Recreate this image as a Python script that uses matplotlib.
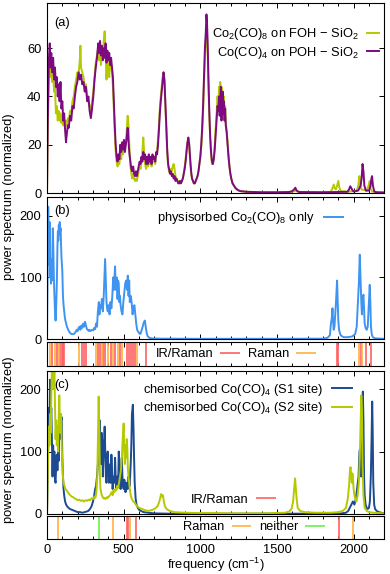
import numpy as np
import matplotlib.pyplot as plt

plt.rcParams['font.family'] = ['Liberation Sans', 'DejaVu Sans']
plt.rcParams['font.size'] = 9.3
plt.rcParams['mathtext.fontset'] = 'custom'
plt.rcParams['mathtext.rm'] = 'Liberation Sans'
plt.rcParams['mathtext.it'] = 'Liberation Sans:italic'
plt.rcParams['mathtext.bf'] = 'Liberation Sans:bold'

# ---- panel (a): (frequency cm-1, power spectrum) ----
foh_sio2 = [(0, 0), (5, 25), (12, 50), (18, 58), (22, 48), (28, 55), (34, 46), (40, 50), (46, 42),
            (52, 44), (58, 33), (64, 36), (70, 30), (76, 34), (82, 30), (88, 33), (94, 29), (100, 32),
            (106, 28), (112, 30), (118, 27), (124, 30), (130, 28), (136, 31), (142, 30), (150, 34),
            (158, 33), (166, 38), (174, 40), (182, 44), (190, 47), (198, 50), (206, 49), (214, 55),
            (218, 61), (222, 52), (230, 50), (238, 48), (246, 44), (254, 45), (262, 40), (270, 38),
            (278, 36), (286, 34), (294, 38), (302, 42), (310, 48), (318, 54), (326, 57), (334, 60),
            (340, 55), (346, 58), (352, 53), (358, 60), (364, 57), (370, 63), (376, 67), (382, 58),
            (388, 47), (394, 55), (400, 52), (406, 48), (412, 55), (418, 53), (424, 50), (430, 44),
            (436, 34), (442, 25), (448, 17), (454, 13), (460, 11), (466, 13), (472, 12), (478, 16),
            (484, 14), (490, 19), (496, 16), (502, 20), (508, 18), (514, 21), (520, 26), (526, 32),
            (532, 28), (538, 18), (544, 11), (550, 8), (556, 6), (562, 8), (568, 6), (574, 5), (580, 6),
            (586, 5), (592, 7), (598, 9), (604, 11), (610, 10), (616, 13), (622, 17), (628, 23),
            (634, 16), (640, 12), (646, 10), (652, 13), (658, 11), (664, 14), (670, 12), (676, 14),
            (682, 11), (688, 15), (694, 13), (700, 14), (706, 12), (712, 16), (718, 17), (724, 22),
            (730, 28), (736, 35), (742, 40), (748, 44), (754, 48), (760, 50), (766, 46), (772, 36),
            (778, 26), (784, 17), (790, 11), (796, 9), (802, 8), (808, 10), (814, 9), (820, 11),
            (826, 12), (832, 10), (838, 7), (844, 6), (850, 5), (856, 5), (862, 4), (868, 5), (874, 4),
            (880, 5), (886, 6), (892, 8), (898, 11), (904, 14), (910, 18), (916, 21), (922, 22),
            (928, 19), (934, 13), (940, 8), (946, 6), (952, 5), (958, 4), (964, 4), (970, 5), (976, 6),
            (982, 7), (988, 9), (994, 12), (1000, 15), (1006, 19), (1012, 25), (1018, 34), (1024, 45),
            (1030, 57), (1036, 64), (1040, 68), (1044, 65), (1048, 58), (1052, 47), (1058, 33),
            (1064, 23), (1070, 16), (1076, 12), (1082, 12), (1088, 15), (1094, 20), (1100, 27),
            (1106, 33), (1112, 40), (1118, 36), (1122, 44), (1126, 38), (1130, 46), (1134, 40),
            (1138, 44), (1142, 36), (1146, 42), (1150, 35), (1154, 40), (1158, 32), (1162, 36),
            (1166, 29), (1172, 26), (1178, 21), (1184, 15), (1190, 11), (1196, 8), (1202, 6), (1210, 4),
            (1220, 3), (1230, 2), (1245, 1.2), (1260, 0.8), (1300, 0.5), (1400, 0.3), (1500, 0.3),
            (1600, 0.5), (1620, 1.0), (1640, 0.4), (1800, 0.3), (1850, 0.4), (1862, 2), (1870, 3.5),
            (1876, 2), (1884, 1.5), (1892, 3), (1900, 5), (1906, 2.5), (1915, 0.8), (1960, 0.5),
            (2020, 1), (2030, 3), (2038, 7), (2044, 4), (2050, 1.5), (2085, 1), (2097, 3), (2105, 5),
            (2111, 2), (2120, 0.6), (2150, 0.3), (2200, 0.2)]

poh_sio2 = [(0, 0), (5, 30), (12, 55), (18, 62), (22, 52), (28, 58), (34, 50), (40, 56), (46, 47),
            (52, 52), (58, 44), (64, 48), (70, 40), (76, 45), (82, 38), (88, 46), (94, 35), (100, 38),
            (106, 30), (112, 33), (118, 26), (124, 21), (130, 25), (136, 28), (142, 27), (150, 32),
            (158, 30), (166, 36), (174, 35), (182, 40), (190, 44), (198, 46), (206, 50), (214, 47),
            (222, 49), (230, 45), (238, 46), (246, 42), (254, 44), (262, 38), (270, 40), (278, 34),
            (286, 31), (294, 35), (302, 40), (310, 47), (318, 52), (326, 56), (334, 62), (340, 58),
            (346, 63), (352, 57), (358, 61), (364, 55), (370, 60), (376, 56), (382, 62), (388, 54),
            (394, 59), (400, 55), (406, 58), (412, 53), (418, 56), (424, 52), (430, 48), (436, 38),
            (442, 28), (448, 20), (454, 15), (460, 13), (466, 16), (472, 14), (478, 20), (484, 17),
            (490, 21), (496, 18), (502, 22), (508, 17), (514, 20), (520, 23), (526, 27), (532, 21),
            (538, 16), (544, 13), (550, 10), (556, 9), (562, 11), (568, 8), (574, 7), (580, 9), (586, 7),
            (592, 9), (598, 11), (604, 13), (610, 12), (616, 15), (622, 13), (628, 17), (634, 14),
            (640, 16), (646, 12), (652, 15), (658, 12), (664, 16), (670, 13), (676, 15), (682, 12),
            (688, 16), (694, 14), (700, 15), (706, 13), (712, 17), (718, 16), (724, 20), (730, 26),
            (736, 33), (742, 38), (748, 42), (754, 46), (760, 50), (766, 47), (772, 38), (778, 28),
            (784, 18), (790, 12), (796, 10), (802, 8), (808, 9), (814, 7), (820, 8), (826, 6), (832, 7),
            (838, 5), (844, 6), (850, 5), (856, 4), (862, 4), (868, 5), (874, 4), (880, 5), (886, 6),
            (892, 8), (898, 10), (904, 13), (910, 17), (916, 21), (922, 23), (928, 20), (934, 14),
            (940, 9), (946, 6), (952, 5), (958, 4), (964, 4), (970, 5), (976, 6), (982, 7), (988, 9),
            (994, 12), (1000, 15), (1006, 20), (1012, 27), (1018, 36), (1024, 48), (1030, 60),
            (1036, 67), (1040, 74), (1044, 70), (1048, 62), (1052, 50), (1058, 35), (1064, 24),
            (1070, 17), (1076, 13), (1082, 12), (1088, 14), (1094, 18), (1100, 24), (1106, 30),
            (1112, 36), (1118, 34), (1122, 40), (1126, 32), (1130, 38), (1134, 44), (1138, 30),
            (1142, 36), (1146, 42), (1150, 33), (1154, 38), (1158, 30), (1162, 35), (1166, 28),
            (1172, 25), (1178, 20), (1184, 15), (1190, 11), (1196, 8), (1202, 6), (1210, 4), (1220, 3),
            (1230, 2), (1245, 1.2), (1260, 0.8), (1300, 0.5), (1400, 0.3), (1500, 0.3), (1580, 0.4),
            (1600, 0.8), (1612, 1.5), (1620, 2.2), (1628, 1.0), (1645, 0.4), (1800, 0.3), (1900, 0.4),
            (1960, 0.5), (1970, 1.5), (1978, 2.8), (1985, 2.0), (1992, 1.2), (2000, 0.6), (2030, 1.0),
            (2045, 3), (2052, 6), (2058, 12), (2064, 9), (2070, 3), (2080, 1), (2100, 1.0), (2110, 3),
            (2116, 6), (2120, 7), (2126, 3), (2135, 0.6), (2150, 0.3), (2200, 0.2)]

# ---- panel (b) ----
physisorbed = [(0, 0), (3, 80), (6, 150), (8, 215), (11, 170), (14, 120), (17, 190), (20, 100),
               (23, 130), (26, 90), (29, 110), (32, 95), (35, 140), (38, 180), (41, 150), (44, 110),
               (47, 80), (50, 60), (53, 40), (56, 30), (59, 45), (62, 70), (65, 100), (68, 150),
               (71, 175), (74, 160), (77, 185), (80, 170), (83, 190), (86, 175), (89, 180), (92, 150),
               (95, 130), (100, 110), (104, 70), (108, 55), (112, 45), (116, 36), (120, 30), (125, 25),
               (130, 20), (140, 14), (150, 10), (160, 8), (170, 8), (180, 9), (188, 12), (194, 15),
               (200, 13), (206, 18), (212, 20), (218, 15), (224, 22), (230, 18), (236, 25), (242, 20),
               (248, 28), (254, 22), (260, 16), (266, 15), (272, 13), (278, 15), (284, 13), (290, 14),
               (296, 15), (302, 14), (308, 18), (314, 16), (320, 25), (326, 20), (332, 45), (338, 60),
               (342, 40), (346, 55), (352, 50), (358, 65), (364, 45), (370, 70), (379, 130), (384, 90),
               (388, 60), (392, 50), (396, 45), (402, 55), (408, 40), (414, 60), (420, 50), (426, 70),
               (432, 100), (436, 80), (444, 118), (448, 80), (452, 85), (456, 100), (460, 65), (464, 95),
               (468, 90), (472, 60), (476, 70), (480, 55), (486, 45), (492, 40), (498, 60), (504, 75),
               (510, 90), (516, 95), (522, 80), (527, 103), (532, 70), (536, 95), (540, 60), (546, 70),
               (552, 60), (558, 40), (564, 50), (570, 55), (576, 40), (582, 25), (588, 15), (594, 12),
               (600, 10), (606, 8), (612, 10), (618, 15), (624, 20), (630, 26), (638, 30), (644, 20),
               (650, 10), (656, 5), (662, 3), (672, 1.5), (690, 0.8), (750, 0.5), (1000, 0.3), (1500, 0.3),
               (1800, 0.5), (1830, 2), (1845, 6), (1852, 25), (1858, 35), (1862, 50), (1866, 30),
               (1870, 15), (1875, 20), (1880, 40), (1885, 60), (1892, 95), (1896, 60), (1900, 30),
               (1905, 15), (1912, 8), (1920, 5), (1935, 3), (1960, 3), (1990, 4), (2010, 8), (2020, 20),
               (2028, 60), (2034, 90), (2040, 137), (2045, 100), (2050, 60), (2054, 40), (2058, 65),
               (2064, 72), (2068, 50), (2072, 25), (2078, 18), (2085, 15), (2092, 20), (2098, 50),
               (2105, 88), (2109, 60), (2113, 20), (2118, 8), (2125, 3), (2140, 1), (2200, 0.3)]

# vibrational modes of physisorbed Co2(CO)8
phys_ir_raman = [35, 67, 85, 95, 103, 111, 227, 242, 255, 333, 346, 368, 379, 416, 444, 473,
                 523, 536, 549, 562, 575, 647, 1889, 1900, 2046, 2078, 2111]
phys_raman = [20, 55, 76, 211, 320, 357, 401, 433, 460, 488, 586, 2035, 2057]

# ---- panel (c) ----
chem_s1 = [(0, 0), (4, 60), (8, 120), (12, 170), (16, 140), (20, 215), (24, 150), (28, 170), (32, 120),
           (36, 60), (40, 110), (44, 70), (48, 100), (52, 55), (56, 50), (60, 80), (64, 95), (68, 70),
           (72, 100), (76, 85), (80, 130), (84, 120), (88, 160), (92, 150), (96, 155), (100, 90),
           (104, 60), (108, 40), (112, 30), (118, 20), (125, 15), (132, 12), (140, 10), (150, 8),
           (160, 7), (170, 6), (180, 5), (190, 4), (200, 3), (215, 3), (230, 2), (245, 3), (260, 4),
           (270, 5), (280, 8), (290, 12), (300, 20), (308, 30), (314, 40), (320, 45), (326, 60),
           (332, 80), (338, 100), (344, 150), (348, 100), (352, 80), (356, 130), (360, 120), (364, 60),
           (368, 90), (372, 110), (376, 140), (380, 100), (384, 60), (388, 50), (392, 90), (396, 100),
           (400, 70), (404, 50), (408, 60), (412, 80), (416, 50), (420, 95), (424, 70), (428, 40),
           (432, 55), (436, 60), (440, 50), (444, 90), (448, 60), (452, 40), (456, 50), (460, 60),
           (464, 45), (468, 100), (472, 80), (476, 55), (480, 40), (484, 60), (488, 90), (492, 60),
           (496, 45), (500, 40), (504, 55), (508, 50), (512, 35), (516, 45), (520, 50), (526, 40),
           (532, 60), (538, 45), (542, 60), (546, 80), (550, 110), (554, 160), (560, 175), (564, 140),
           (568, 90), (572, 50), (578, 25), (584, 15), (592, 10), (600, 7), (612, 5), (630, 3),
           (660, 2), (700, 1), (800, 0.5), (1500, 0.5), (1900, 0.5), (1950, 2), (1965, 5), (1975, 10),
           (1985, 15), (1995, 20), (2005, 15), (2015, 25), (2025, 45), (2032, 60), (2038, 100),
           (2042, 105), (2046, 80), (2050, 60), (2055, 120), (2060, 196), (2064, 150), (2068, 60),
           (2072, 30), (2078, 15), (2085, 10), (2092, 8), (2100, 10), (2106, 20), (2112, 60),
           (2117, 120), (2121, 180), (2124, 140), (2128, 50), (2134, 15), (2140, 8), (2150, 5),
           (2165, 3), (2180, 2), (2200, 1)]

chem_s2 = [(0, 0), (4, 50), (8, 100), (12, 140), (16, 110), (20, 160), (24, 130), (28, 190), (32, 235),
           (36, 215), (40, 235), (44, 200), (48, 235), (52, 180), (56, 120), (60, 150), (64, 110),
           (68, 140), (72, 100), (76, 150), (80, 190), (84, 150), (88, 130), (92, 160), (96, 110),
           (100, 80), (104, 60), (108, 50), (114, 45), (120, 40), (128, 38), (136, 35), (144, 32),
           (152, 30), (160, 28), (170, 27), (180, 25), (190, 24), (200, 22), (210, 23), (220, 21),
           (230, 22), (240, 20), (250, 22), (260, 21), (270, 23), (280, 22), (290, 25), (300, 24),
           (310, 28), (316, 26), (322, 35), (328, 60), (332, 120), (337, 188), (341, 140), (345, 60),
           (349, 40), (353, 35), (357, 30), (362, 28), (368, 25), (374, 26), (380, 24), (386, 25),
           (392, 27), (398, 26), (404, 28), (410, 30), (416, 32), (422, 35), (428, 30), (434, 38),
           (440, 35), (446, 40), (452, 38), (458, 45), (464, 42), (470, 50), (476, 60), (482, 70),
           (488, 90), (494, 120), (500, 145), (504, 100), (508, 80), (512, 110), (516, 90), (520, 120),
           (524, 105), (528, 70), (534, 55), (540, 40), (546, 30), (552, 25), (558, 22), (564, 20),
           (572, 18), (580, 15), (590, 12), (600, 10), (620, 8), (640, 6), (660, 5), (680, 6), (700, 8),
           (720, 12), (730, 18), (738, 25), (744, 32), (750, 28), (756, 30), (762, 20), (770, 12),
           (780, 8), (800, 5), (830, 3), (900, 2), (1000, 1.5), (1100, 1.5), (1200, 1), (1400, 1),
           (1550, 2), (1580, 4), (1595, 8), (1605, 20), (1612, 40), (1618, 57), (1622, 45), (1628, 25),
           (1635, 10), (1650, 5), (1680, 3), (1750, 2), (1850, 2), (1900, 3), (1930, 5), (1950, 10),
           (1962, 25), (1970, 45), (1976, 70), (1980, 75), (1984, 60), (1988, 50), (1992, 65),
           (1996, 55), (2000, 40), (2005, 30), (2010, 25), (2018, 20), (2026, 30), (2034, 50),
           (2040, 90), (2046, 150), (2050, 190), (2054, 170), (2058, 80), (2064, 30), (2072, 10),
           (2085, 5), (2100, 3), (2130, 2), (2200, 1)]

# vibrational modes of chemisorbed Co(CO)4
chem_ir_raman = [521, 531, 580, 1904]
chem_raman = [74, 433, 542, 1998]
chem_neither = [340]

c_yellow = '#b5c900'
c_purple = '#7e0a80'
c_lblue = '#3f94f2'
c_dblue = '#1c4b92'
c_red = '#ff6060'
c_orange = '#ffb040'
c_green = '#6cf04c'

W, H = 390.0, 574.0
def box(top, bottom, left=47.0, right=384.3):
    return [left / W, 1 - bottom / H, (right - left) / W, (bottom - top) / H]

fig = plt.figure(figsize=(3.9, 5.74), dpi=100)
ax_a = fig.add_axes(box(3.3, 193))
ax_b = fig.add_axes(box(197.5, 339))
st_b = fig.add_axes(box(342, 366))
ax_c = fig.add_axes(box(371, 514))
st_c = fig.add_axes(box(516, 538.5))

for ax in [ax_a, ax_b, st_b, ax_c, st_c]:
    ax.set_xlim(0, 2200)
    ax.set_xticks(np.arange(0, 2201, 500))
    ax.set_xticks(np.arange(0, 2201, 100), minor=True)
    ax.tick_params(direction='in', which='both', top=True, right=True, length=3.5, width=0.7, pad=4)
    ax.tick_params(which='minor', length=2)
    for s in ax.spines.values():
        s.set_linewidth(0.8)
    if ax is not st_c:
        ax.tick_params(labelbottom=False)

lw = 1.4
a1 = np.array(foh_sio2).T
a2 = np.array(poh_sio2).T
ax_a.plot(a1[0], a1[1], color=c_yellow, lw=lw, label=r'Co$_2$(CO)$_8$ on FOH − SiO$_2$')
ax_a.plot(a2[0], a2[1], color=c_purple, lw=lw, label=r'Co(CO)$_4$ on POH − SiO$_2$')
ax_a.set_ylim(0, 78.6)
ax_a.set_yticks([0, 20, 40, 60])
ax_a.legend(loc='upper right', bbox_to_anchor=(0.984, 0.88), markerfirst=False, frameon=False,
            handlelength=0.9, handletextpad=0.65, labelspacing=0.2, borderpad=0, borderaxespad=0)

b = np.array(physisorbed).T
ax_b.plot(b[0], b[1], color=c_lblue, lw=lw, label=r'physisorbed Co$_2$(CO)$_8$ only')
ax_b.set_ylim(0, 230)
ax_b.set_yticks([0, 100, 200])
ax_b.legend(loc='upper right', bbox_to_anchor=(0.877, 0.91), markerfirst=False, frameon=False,
            handlelength=1.45, handletextpad=0.75, borderpad=0, borderaxespad=0)

r1 = st_b.vlines(phys_ir_raman, 0, 1, color=c_red, lw=1.2, label='IR/Raman')
r2 = st_b.vlines(phys_raman, 0, 1, color=c_orange, lw=1.2, label='Raman')
st_b.set_ylim(0, 1)
st_b.set_yticks([])
st_b.legend(loc='center', bbox_to_anchor=(0.56, 0.5), ncol=2, markerfirst=False, frameon=False,
            handlelength=1.55, handletextpad=0.55, columnspacing=0.6, borderpad=0, borderaxespad=0)

c1 = np.array(chem_s1).T
c2 = np.array(chem_s2).T
ax_c.plot(c1[0], c1[1], color=c_dblue, lw=lw, label=r'chemisorbed Co(CO)$_4$ (S1 site)')
ax_c.plot(c2[0], c2[1], color=c_yellow, lw=lw, label=r'chemisorbed Co(CO)$_4$ (S2 site)')
ax_c.set_ylim(0, 229)
ax_c.set_yticks([0, 100, 200])
leg_c = ax_c.legend(loc='upper right', bbox_to_anchor=(0.905, 0.925), markerfirst=False, frameon=False,
                    handlelength=1.55, handletextpad=0.7, labelspacing=0.2, borderpad=0, borderaxespad=0)
ax_c.add_artist(leg_c)

s1 = st_c.vlines(chem_ir_raman, 0, 1, color=c_red, lw=1.2)
s2 = st_c.vlines(chem_raman, 0, 1, color=c_orange, lw=1.2)
s3 = st_c.vlines(chem_neither, 0, 1, color=c_green, lw=1.2)
st_c.set_ylim(0, 1)
st_c.set_yticks([])
ax_c.legend([s1], ['IR/Raman'], loc='center', bbox_to_anchor=(0.553, 0.098), markerfirst=False,
            frameon=False, handlelength=1.55, handletextpad=0.55, borderpad=0, borderaxespad=0)
st_c.legend([s2, s3], ['Raman', 'neither'], loc='center', bbox_to_anchor=(0.614, 0.5), ncol=2,
            markerfirst=False, frameon=False, handlelength=1.5, handletextpad=0.55, columnspacing=0.6,
            borderpad=0, borderaxespad=0)
fig.text((47 + 384.3) / 2 / W, 1 - 564.5 / H, r'frequency (cm$^{-1}$)', ha='center', va='center')

for ax, lab, dy in [(ax_a, '(a)', -14), (ax_b, '(b)', -10), (ax_c, '(c)', -10)]:
    ax.annotate(lab, xy=(0, 1), xycoords='axes fraction', xytext=(5.5, dy),
                textcoords='offset points', va='center', ha='left')

fig.text(0.022, 1 - 197 / H, 'power spectrum (normalized)', rotation=90, va='center', ha='center')
fig.text(0.022, 1 - 440 / H, 'power spectrum (normalized)', rotation=90, va='center', ha='center')

fig.savefig('out.png', dpi=100)
